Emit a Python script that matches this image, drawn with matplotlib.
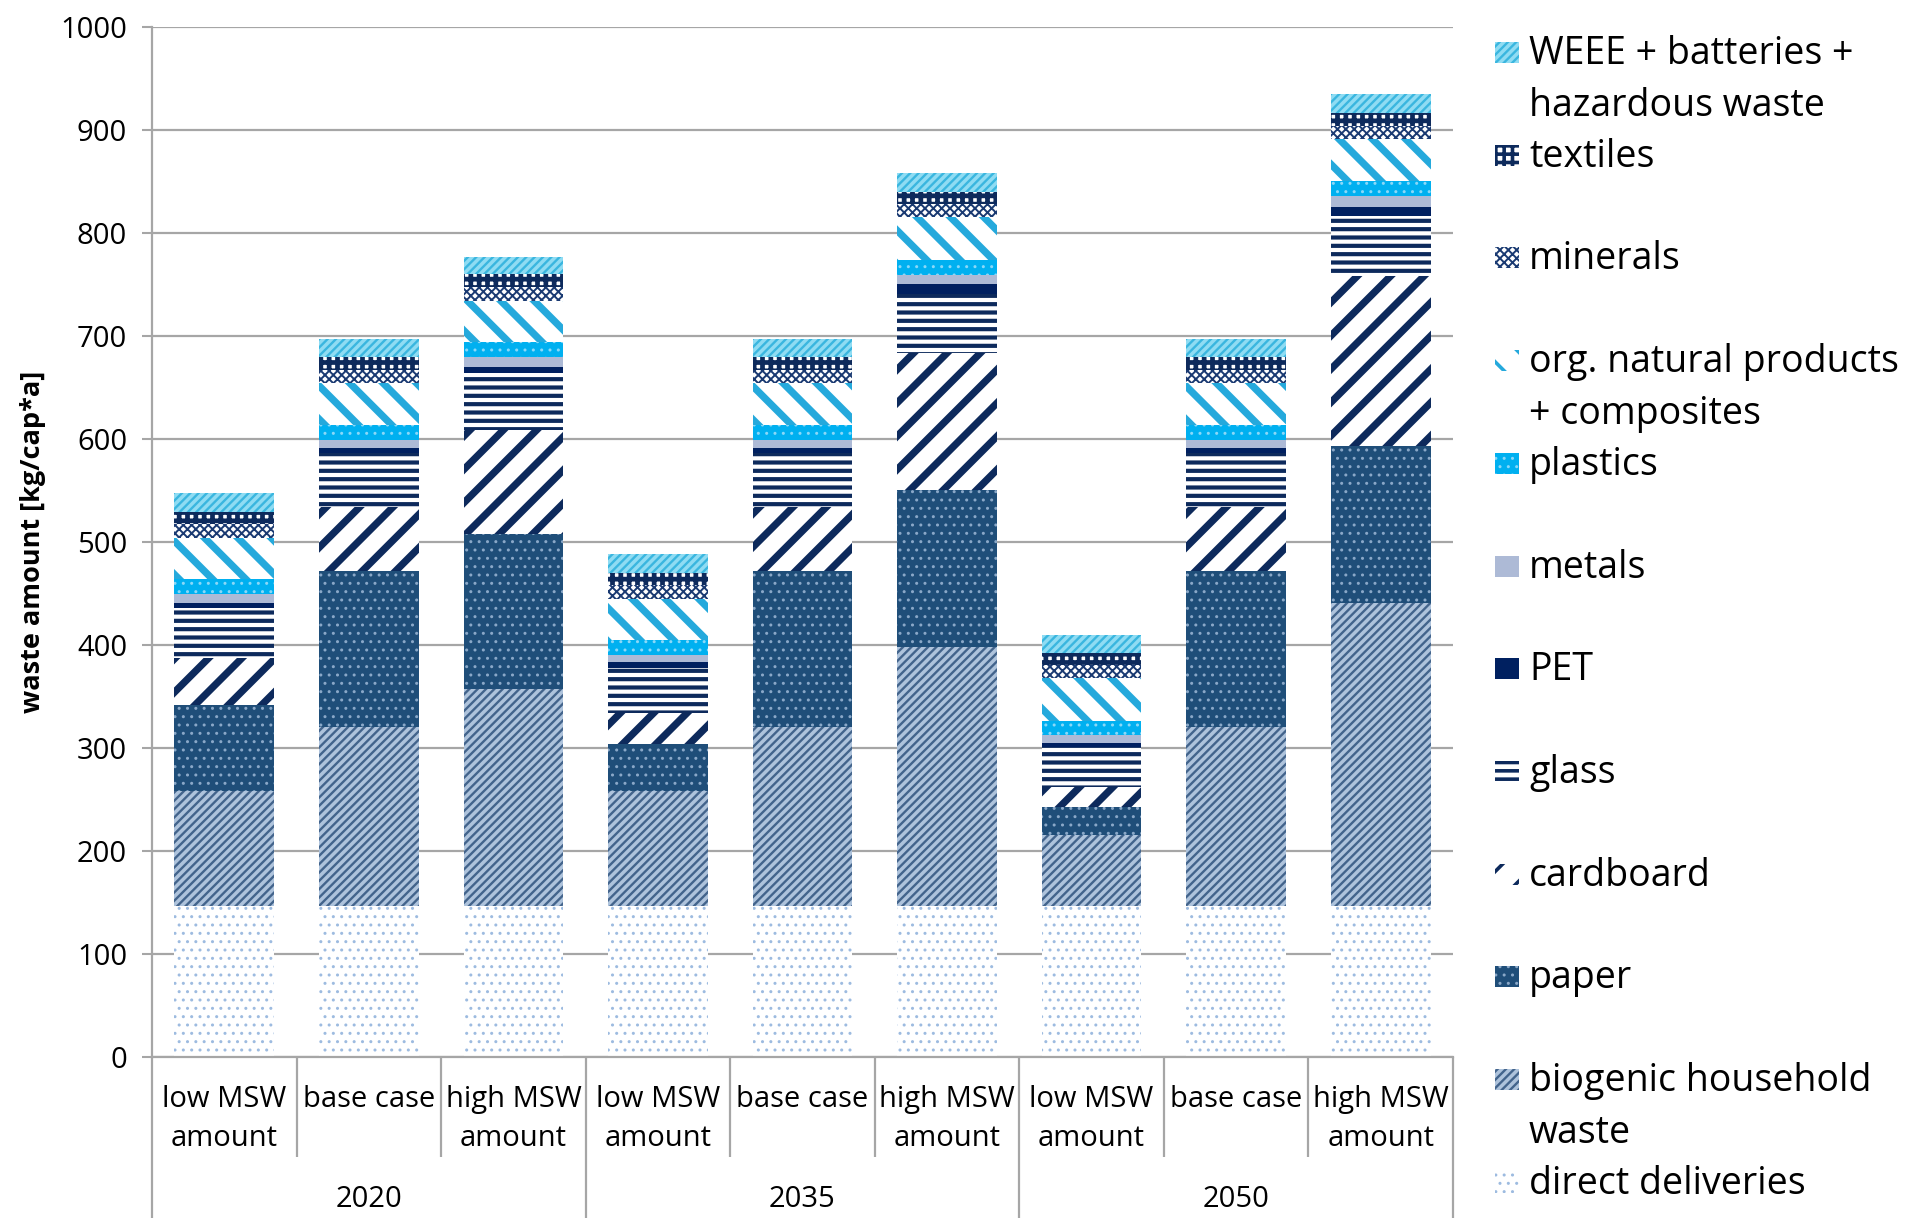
"""Stacked bars of MSW composition per scenario and year."""
import matplotlib

matplotlib.use("Agg")
import matplotlib.pyplot as plt
import numpy as np
from matplotlib.patches import Rectangle
from matplotlib.transforms import blended_transform_factory

plt.rcParams["font.family"] = ["Open Sans", "DejaVu Sans"]

years = ["2020", "2035", "2050"]
cases = ["low MSW\namount", "base case", "high MSW\namount"]

# kg/cap*a per fraction, one value per bar (2020 low/base/high, 2035 ..., 2050 ...)
direct_deliveries = [147, 147, 147, 147, 147, 147, 147, 147, 147]
biogenic = [111, 173, 210, 111, 173, 251, 69, 173, 294]
paper = [84, 152, 151, 46, 152, 152, 27, 152, 152]
cardboard = [45, 62, 101, 30, 62, 133, 19, 62, 165]
glass = [49, 52, 55, 44, 52, 58, 39, 52, 58]
pet = [5, 5, 6, 5, 5, 9, 4, 5, 9]
metals = [8, 8, 9, 7, 8, 9, 8, 8, 11]
plastics = [15, 14, 15, 15, 14, 15, 13, 14, 14]
org_natural = [40, 41, 40, 40, 41, 41, 42, 41, 41]
minerals = [13, 13, 13, 13, 13, 13, 13, 13, 13]
textiles = [12, 12, 13, 12, 12, 12, 11, 12, 12]
weee = [18, 18, 17, 18, 18, 18, 18, 18, 19]

fractions = [
    ("direct deliveries", direct_deliveries),
    ("biogenic household\nwaste", biogenic),
    ("paper", paper),
    ("cardboard", cardboard),
    ("glass", glass),
    ("PET", pet),
    ("metals", metals),
    ("plastics", plastics),
    ("org. natural products\n+ composites", org_natural),
    ("minerals", minerals),
    ("textiles", textiles),
    ("WEEE + batteries +\nhazardous waste", weee),
]

# face colour, hatch colour, hatch, hatch line width
STYLES = [
    ("white", "#9dbbe0", "..", 1.0),
    ("#aec3dc", "#43648c", "////", 1.7),
    ("#1f4e79", "#8aa8c8", "..", 1.0),
    ("white", "#0d2a5c", "/", 5.2),
    ("white", "#0d2a5c", "--", 3.0),
    ("#002060", "#002060", None, 1.0),
    ("#adbad6", "#adbad6", None, 1.0),
    ("#00b0f0", "#8ad8f8", "..", 1.0),
    ("white", "#25a9dc", "\\", 5.2),
    ("white", "#1a3a72", "xxxx", 1.4),
    ("white", "#0d2a5c", "++", 3.4),
    ("#8fdcf3", "#3ab6df", "////", 1.7),
]

GRID = "#a6a6a6"


def _style(patch, face, hcol, hatch, hlw):
    patch.set_facecolor(face)
    patch.set_edgecolor(hcol)
    patch.set_linewidth(0)
    if hatch:
        patch.set_hatch(hatch)
        patch.set_hatch_linewidth(hlw)


fig = plt.figure(figsize=(19.1, 12.23), dpi=100)
ax = fig.add_axes([0.0796, 0.1357, 0.6811, 0.8424])

x = np.arange(len(years) * len(cases))
bottom = np.zeros(len(x))
for (label, vals), style in zip(fractions, STYLES):
    bars = ax.bar(x, vals, 0.69, bottom=bottom, label=label)
    for b in bars:
        _style(b, *style)
    bottom += np.array(vals)

ax.set_xlim(-0.5, 8.5)
ax.set_ylim(0, 1000)
ax.set_yticks(np.arange(0, 1001, 100))
ax.tick_params(axis="y", labelsize=21, length=7, width=1.5, color=GRID, pad=11)
ax.set_xticks([])
ax.set_axisbelow(True)
ax.yaxis.grid(True, color=GRID, linewidth=1.6)
for side in ("top", "right"):
    ax.spines[side].set_visible(False)
for side in ("left", "bottom"):
    ax.spines[side].set_color(GRID)
    ax.spines[side].set_linewidth(1.6)
ax.set_ylabel("waste amount [kg/cap*a]", fontsize=19.5, fontweight="bold", labelpad=10)

# two-level category axis below the bars
trans = blended_transform_factory(ax.transData, ax.transAxes)
for i, xi in enumerate(x):
    ax.text(xi, -0.027, cases[i % 3], transform=trans, ha="center", va="top",
            fontsize=21, linespacing=1.45)
for g, yr in enumerate(years):
    ax.text(3 * g + 1, -0.138, yr, transform=trans, ha="center", va="center", fontsize=21)
for edge in np.arange(-0.5, 9, 1.0):
    low = -0.156 if (edge + 0.5) % 3 == 0 else -0.097
    ax.plot([edge, edge], [0, low], transform=trans, color=GRID, lw=1.6,
            clip_on=False, solid_capstyle="butt")

# legend laid out in pixel coordinates on the right
lax = fig.add_axes([0, 0, 1, 1], facecolor="none")
lax.set_xlim(0, 1910)
lax.set_ylim(1223, 0)
lax.axis("off")
for k, ((label, _), style) in enumerate(reversed(list(zip(fractions, STYLES)))):
    yc = 53 + k * 102.7
    r = Rectangle((1495, yc - 11), 24, 21)
    _style(r, *style[:3], min(style[3], 2.6))
    lax.add_patch(r)
    lax.text(1529, yc - 18, label, ha="left", va="top", fontsize=27, linespacing=1.47)

fig.savefig("out.png", dpi=100)
